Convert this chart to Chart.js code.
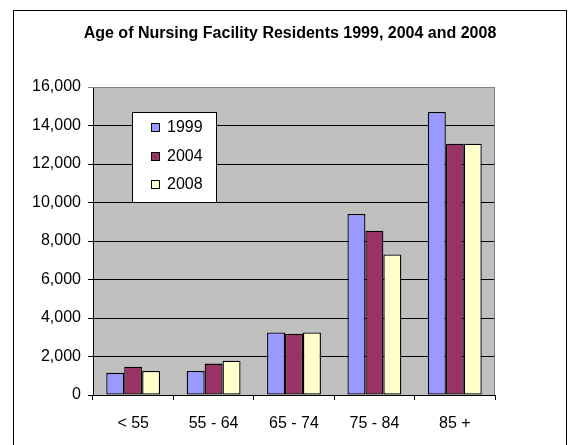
<!DOCTYPE html>
<html>
<head>
<meta charset="utf-8">
<script src="https://cdn.jsdelivr.net/npm/chart.js@4/dist/chart.umd.min.js"></script>
<style>
html,body{margin:0;padding:0;background:#fff;}
#wrap{position:relative;width:571px;height:445px;}
</style>
</head>
<body>
<div id="wrap"><canvas id="c" width="571" height="445"></canvas></div>
<script>
const chartTitle = "Age of Nursing Facility Residents 1999, 2004 and 2008";
const categories = ["< 55", "55 - 64", "65 - 74", "75 - 84", "85 +"];
const seriesLabels = ["1999", "2004", "2008"];
const values1999 = [1150, 1250, 3250, 9400, 14700];
const values2004 = [1470, 1630, 3180, 8530, 13050];
const values2008 = [1250, 1780, 3250, 7300, 13050];
const yTicks = [0, 2000, 4000, 6000, 8000, 10000, 12000, 14000, 16000];
const colors = ["#9999FF", "#993366", "#FFFFCC"];

const FONT = "'Liberation Sans', Arial, sans-serif";

const framePlugin = {
  id: 'frame',
  beforeDraw(chart) {
    const {ctx, chartArea: a} = chart;
    ctx.save();
    ctx.fillStyle = '#fff';
    ctx.fillRect(0, 0, chart.width, chart.height);
    ctx.fillStyle = '#C0C0C0';
    ctx.fillRect(a.left, a.top, a.right - a.left, a.bottom - a.top);
    ctx.restore();
  },
  afterDatasetsDraw(chart) {
    const {ctx, chartArea: a} = chart;
    ctx.save();
    ctx.strokeStyle = '#808080';
    ctx.lineWidth = 1;
    ctx.beginPath();
    ctx.moveTo(a.left, Math.round(a.top) + 0.5);
    ctx.lineTo(Math.round(a.right) - 0.5, Math.round(a.top) + 0.5);
    ctx.lineTo(Math.round(a.right) - 0.5, a.bottom);
    ctx.stroke();
    ctx.restore();
  },
  afterDraw(chart) {
    const {ctx} = chart;
    ctx.save();
    // outer border
    ctx.strokeStyle = '#000';
    ctx.lineWidth = 1;
    ctx.strokeRect(13.5, 10.5, 553, 600);
    // title
    ctx.fillStyle = '#000';
    ctx.font = "bold 16px " + FONT;
    ctx.textAlign = 'center';
    ctx.textBaseline = 'middle';
    ctx.fillText(chartTitle, 290, 34);
    // legend
    const lx = 132, ly = 112, lw = 84, lh = 90;
    ctx.fillStyle = '#fff';
    ctx.fillRect(lx, ly, lw, lh);
    ctx.strokeStyle = '#000';
    ctx.strokeRect(lx + 0.5, ly + 0.5, lw, lh);
    ctx.font = "16px " + FONT;
    ctx.textAlign = 'left';
    chart.data.datasets.forEach((ds, i) => {
      const cy = 127 + i * 28.5;
      ctx.fillStyle = ds.backgroundColor;
      ctx.fillRect(151, Math.round(cy) - 4, 9, 9);
      ctx.strokeStyle = '#000';
      ctx.strokeRect(151.5, Math.round(cy) - 3.5, 8, 8);
      ctx.fillStyle = '#000';
      ctx.fillText(ds.label, 167, cy + 1);
    });
    ctx.restore();
  }
};

new Chart(document.getElementById('c'), {
  type: 'bar',
  data: {
    labels: categories,
    datasets: [
      {label: seriesLabels[0], data: values1999, backgroundColor: colors[0]},
      {label: seriesLabels[1], data: values2004, backgroundColor: colors[1]},
      {label: seriesLabels[2], data: values2008, backgroundColor: colors[2]}
    ].map(d => Object.assign(d, {borderColor: '#000', borderWidth: 1.3, borderSkipped: false,
      categoryPercentage: 0.67, barPercentage: 1.0}))
  },
  options: {
    responsive: false,
    animation: false,
    devicePixelRatio: 1,
    layout: {padding: {left: 13, right: 76, top: 87, bottom: 0}},
    plugins: {legend: {display: false}, title: {display: false}, tooltip: {enabled: false}},
    scales: {
      x: {
        grid: {display: true, drawOnChartArea: false, drawTicks: true, tickLength: 5, color: '#000', offset: true},
        border: {display: true, color: '#000', width: 1},
        ticks: {color: '#000', font: {family: FONT, size: 16}, padding: 14, maxRotation: 0},
        afterFit(s) { s.height = 50; }
      },
      y: {
        min: 0, max: 16000,
        afterBuildTicks(s) { s.ticks = yTicks.map(v => ({value: v})); },
        grid: {color: (c) => c.tick && c.tick.value === 16000 ? '#808080' : '#000', lineWidth: 1, drawTicks: true, tickLength: 5},
        border: {display: true, color: '#000', width: 1},
        ticks: {color: '#000', font: {family: FONT, size: 16}, padding: 7,
          callback: v => v.toLocaleString('en-US')},
        afterFit(s) { s.width = 80; }
      }
    }
  },
  plugins: [framePlugin]
});
</script>
</body>
</html>
